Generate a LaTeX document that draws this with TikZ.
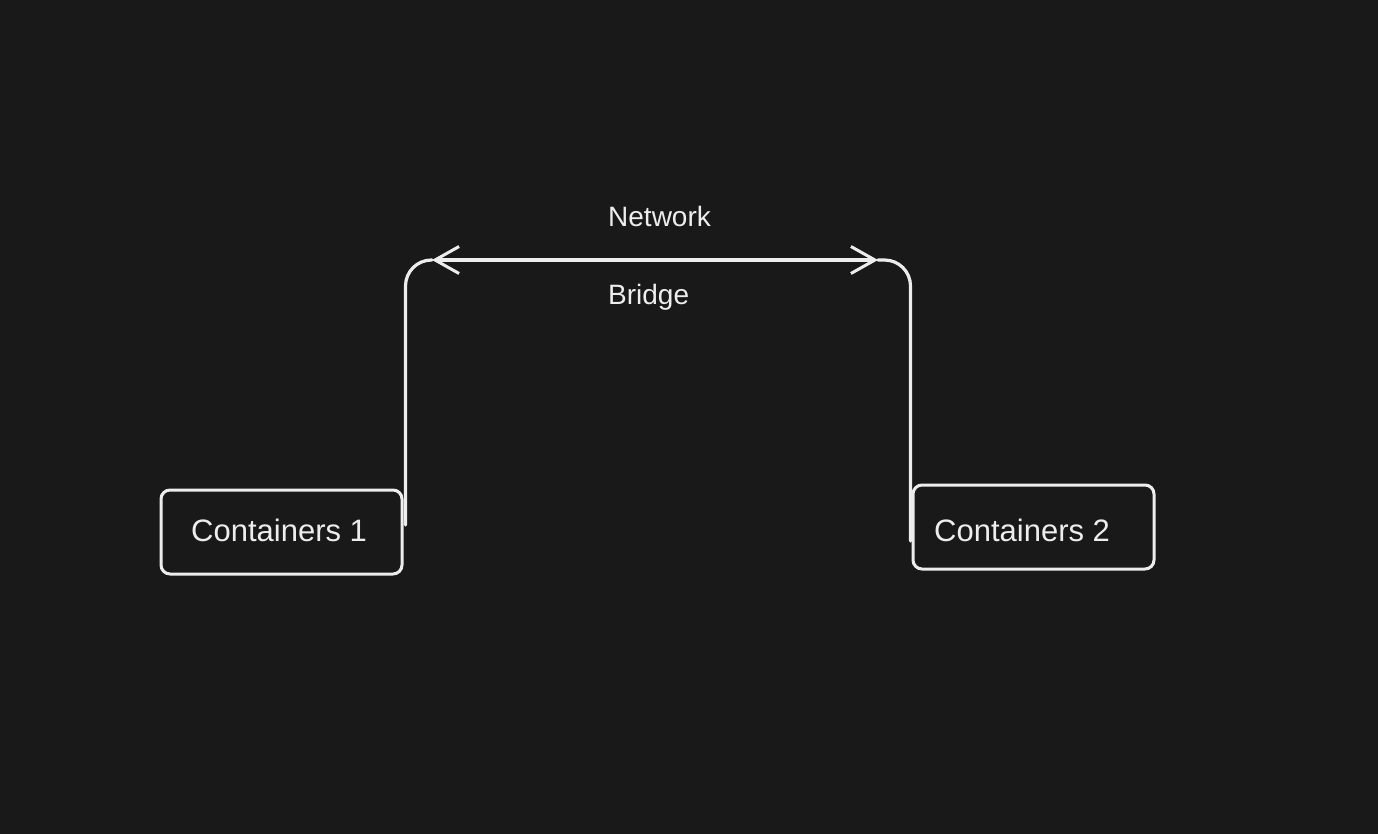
\documentclass[tikz,border=0pt]{standalone}
\usepackage{fontspec}
\setmainfont{Liberation Sans}
\usetikzlibrary{arrows.meta,calc}
\definecolor{bg}{HTML}{191919}
\definecolor{ink}{HTML}{EDEDED}
\begin{document}
\begin{tikzpicture}[x=1pt,y=-1pt,
  box/.style={draw=ink, line width=3pt, rounded corners=9pt, minimum width=241pt, minimum height=84pt, inner sep=0pt},
  boxtext/.style={text=ink, anchor=base west, inner sep=0pt, font=\fontsize{31}{36}\selectfont},
  lbl/.style={text=ink, anchor=base west, inner sep=0pt, font=\fontsize{28}{32}\selectfont},
  wire/.style={draw=ink, line width=3.2pt, rounded corners=26pt, line cap=round},
  arr/.style={draw=ink, line width=3.2pt, line cap=round, {Straight Barb[length=24pt,width=27pt,line width=3pt]}-{Straight Barb[length=24pt,width=27pt,line width=3pt]}}]
\fill[bg] (0,0) rectangle (1378,834);
\useasboundingbox (0,0) rectangle (1378,834);
\node[box] (c1) at (281.5,532) {};
\node[box] (c2) at (1033.5,527) {};
\node[boxtext] (t1) at (191,541) {Containers 1};
\node[boxtext] (t2) at (934,541) {Containers 2};
\node[lbl] (net) at (608,227) {Network};
\node[lbl] (br) at (608,305) {Bridge};
\coordinate (L) at (432,260);
\coordinate (R) at (878,260);
\draw[wire] ($(c1.east)+(2,-7)$) |- (L);
\draw[wire] (R) -| ($(c2.west)+(-1,14)$);
\draw[arr] (L) -- (R);
\end{tikzpicture}
\end{document}
